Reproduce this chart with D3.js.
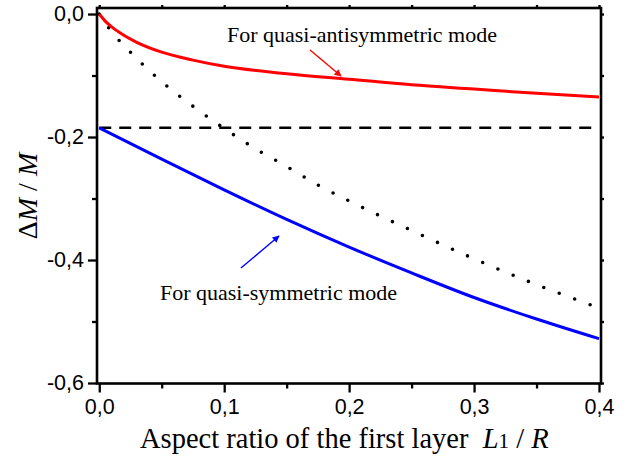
<!DOCTYPE html>
<html>
<head>
<meta charset="utf-8">
<script src="https://cdn.jsdelivr.net/npm/d3@7/dist/d3.min.js"></script>
<style>
  html, body { margin: 0; padding: 0; background: #fff; }
  svg { display: block; }
</style>
</head>
<body>
<script>
// ---- data ----
const antiX = [0, 0.005, 0.01, 0.02, 0.03, 0.05, 0.075, 0.1, 0.15, 0.2, 0.25, 0.3, 0.35, 0.4];
const antiY = [0, -0.012, -0.021, -0.035, -0.046, -0.062, -0.075, -0.085, -0.097, -0.106, -0.115, -0.122, -0.129, -0.135];

const symX = [0, 0.05, 0.1, 0.15, 0.2, 0.25, 0.3, 0.35, 0.4];
const symY = [-0.185, -0.236, -0.286, -0.334, -0.379, -0.421, -0.461, -0.496, -0.528];

const dotX = [0, 0.01, 0.025, 0.05, 0.075, 0.1, 0.125, 0.15, 0.175, 0.2, 0.25, 0.3, 0.35, 0.4];
const dotY = [0, -0.029, -0.062, -0.110, -0.150, -0.186, -0.219, -0.248, -0.278, -0.304, -0.352, -0.398, -0.440, -0.478];

const dashLevel = -0.185;

const xTicks = [0, 0.1, 0.2, 0.3, 0.4];
const xMinor = [0.05, 0.15, 0.25, 0.35];
const yTicks = [0, -0.2, -0.4, -0.6];
const yMinor = [-0.1, -0.3, -0.5];
const fmt = d => d3.format(".1f")(d).replace(".", ",").replace("−", "-");

// annotation anchors (data units)
const antiLabel = { text: "For quasi-antisymmetric mode", x: 0.1022, y: -0.0455 };
const antiArrow = { x1: 0.1687, y1: -0.0585, x2: 0.1935, y2: -0.1008 };
const symLabel = { text: "For quasi-symmetric mode", x: 0.0486, y: -0.465 };
const symArrow = { x1: 0.1134, y1: -0.413, x2: 0.1439, y2: -0.361 };

// ---- layout ----
const W = 635, H = 457;
const L = 97, R = 601, T = 8, B = 383.5;

const svg = d3.select("body").append("svg").attr("width", W).attr("height", H);

const x = d3.scaleLinear().domain([-0.0018, 0.4016]).range([L, R]);
const y = d3.scaleLinear().domain([-0.6, 0.0098]).range([383, T]);

const defs = svg.append("defs");
function marker(id, color) {
  defs.append("marker").attr("id", id).attr("viewBox", "0 0 10 10")
    .attr("refX", 9).attr("refY", 5).attr("markerWidth", 9).attr("markerHeight", 7)
    .attr("markerUnits", "userSpaceOnUse").attr("orient", "auto")
    .append("path").attr("d", "M0,0 L10,5 L0,10 z").attr("fill", color);
}
marker("arR", "#ff0000");
marker("arB", "#0000ff");

const line = d3.line().x(d => x(d[0])).y(d => y(d[1])).curve(d3.curveMonotoneX);
const plot = svg.append("g");

// dashed horizontal
plot.append("line")
  .attr("x1", x(0)).attr("x2", R - 2).attr("y1", y(dashLevel)).attr("y2", y(dashLevel))
  .attr("stroke", "#000").attr("stroke-width", 2.6).attr("stroke-dasharray", "12,8");

// dotted curve
plot.append("path").datum(dotX.map((v, i) => [v, dotY[i]]))
  .attr("d", line).attr("fill", "none").attr("stroke", "#000")
  .attr("stroke-width", 3.6).attr("stroke-linecap", "round").attr("stroke-dasharray", "0,16.5");

// red curve
plot.append("path").datum(antiX.map((v, i) => [v, antiY[i]]))
  .attr("d", line).attr("fill", "none").attr("stroke", "#ff0000").attr("stroke-width", 3);

// blue curve
plot.append("path").datum(symX.map((v, i) => [v, symY[i]]))
  .attr("d", line).attr("fill", "none").attr("stroke", "#0000ff").attr("stroke-width", 3);

// ---- axes ----
const axG = svg.append("g");
function axisStyle(g) {
  g.selectAll(".domain").remove();
  g.selectAll("line").attr("stroke", "#000").attr("stroke-width", 2.3);
  g.selectAll("text").attr("font-family", "Liberation Sans, Arial, sans-serif")
    .attr("font-size", "21.5px").attr("fill", "#000");
}
axG.append("g").attr("transform", `translate(0,${B})`)
  .call(d3.axisBottom(x).tickValues(xTicks).tickFormat(fmt).tickSize(9).tickPadding(6))
  .call(axisStyle);
axG.append("g").attr("transform", `translate(0,${B})`)
  .call(d3.axisBottom(x).tickValues(xMinor).tickFormat("").tickSize(5)).call(axisStyle);
axG.append("g").attr("transform", `translate(${L},0)`)
  .call(d3.axisLeft(y).tickValues(yTicks).tickFormat(fmt).tickSize(9).tickPadding(4))
  .call(axisStyle);
axG.append("g").attr("transform", `translate(${L},0)`)
  .call(d3.axisLeft(y).tickValues(yMinor).tickFormat("").tickSize(5)).call(axisStyle);
axG.append("g").attr("transform", `translate(0,${T})`)
  .call(d3.axisTop(x).tickValues(xTicks.concat(xMinor)).tickFormat("").tickSize(3)).call(axisStyle);
axG.append("g").attr("transform", `translate(${R},0)`)
  .call(d3.axisRight(y).tickValues(yTicks.concat(yMinor)).tickFormat("").tickSize(3)).call(axisStyle);

// frame
svg.append("rect").attr("x", L).attr("y", T).attr("width", R - L).attr("height", B - T)
  .attr("fill", "none").attr("stroke", "#000").attr("stroke-width", 2.6);

// ---- annotations ----
const serif = "Liberation Serif, Times New Roman, serif";
svg.append("text").attr("x", x(antiLabel.x)).attr("y", y(antiLabel.y))
  .attr("font-family", serif).attr("font-size", "22px").text(antiLabel.text);
svg.append("line").attr("x1", x(antiArrow.x1)).attr("y1", y(antiArrow.y1))
  .attr("x2", x(antiArrow.x2)).attr("y2", y(antiArrow.y2))
  .attr("stroke", "#ff0000").attr("stroke-width", 1.4).attr("marker-end", "url(#arR)");

svg.append("text").attr("x", x(symLabel.x)).attr("y", y(symLabel.y))
  .attr("font-family", serif).attr("font-size", "22px").text(symLabel.text);
svg.append("line").attr("x1", x(symArrow.x1)).attr("y1", y(symArrow.y1))
  .attr("x2", x(symArrow.x2)).attr("y2", y(symArrow.y2))
  .attr("stroke", "#0000ff").attr("stroke-width", 1.4).attr("marker-end", "url(#arB)");

// axis titles
const xt = svg.append("text").attr("x", 140).attr("y", 448)
  .attr("font-family", serif).attr("font-size", "28.5px").attr("xml:space", "preserve");
xt.append("tspan").text("Aspect ratio of the first layer  ");
xt.append("tspan").attr("font-style", "italic").text("L");
xt.append("tspan").attr("font-size", "21px").text("1");
xt.append("tspan").text(" / ");
xt.append("tspan").attr("font-style", "italic").text("R");

const yt = svg.append("text").attr("transform", "translate(37,196) rotate(-90)")
  .attr("text-anchor", "middle")
  .attr("font-family", serif).attr("font-size", "28px").attr("xml:space", "preserve");
yt.append("tspan").text("Δ");
yt.append("tspan").attr("font-style", "italic").text("M");
yt.append("tspan").text(" / ");
yt.append("tspan").attr("font-style", "italic").text("M");
</script>
</body>
</html>
